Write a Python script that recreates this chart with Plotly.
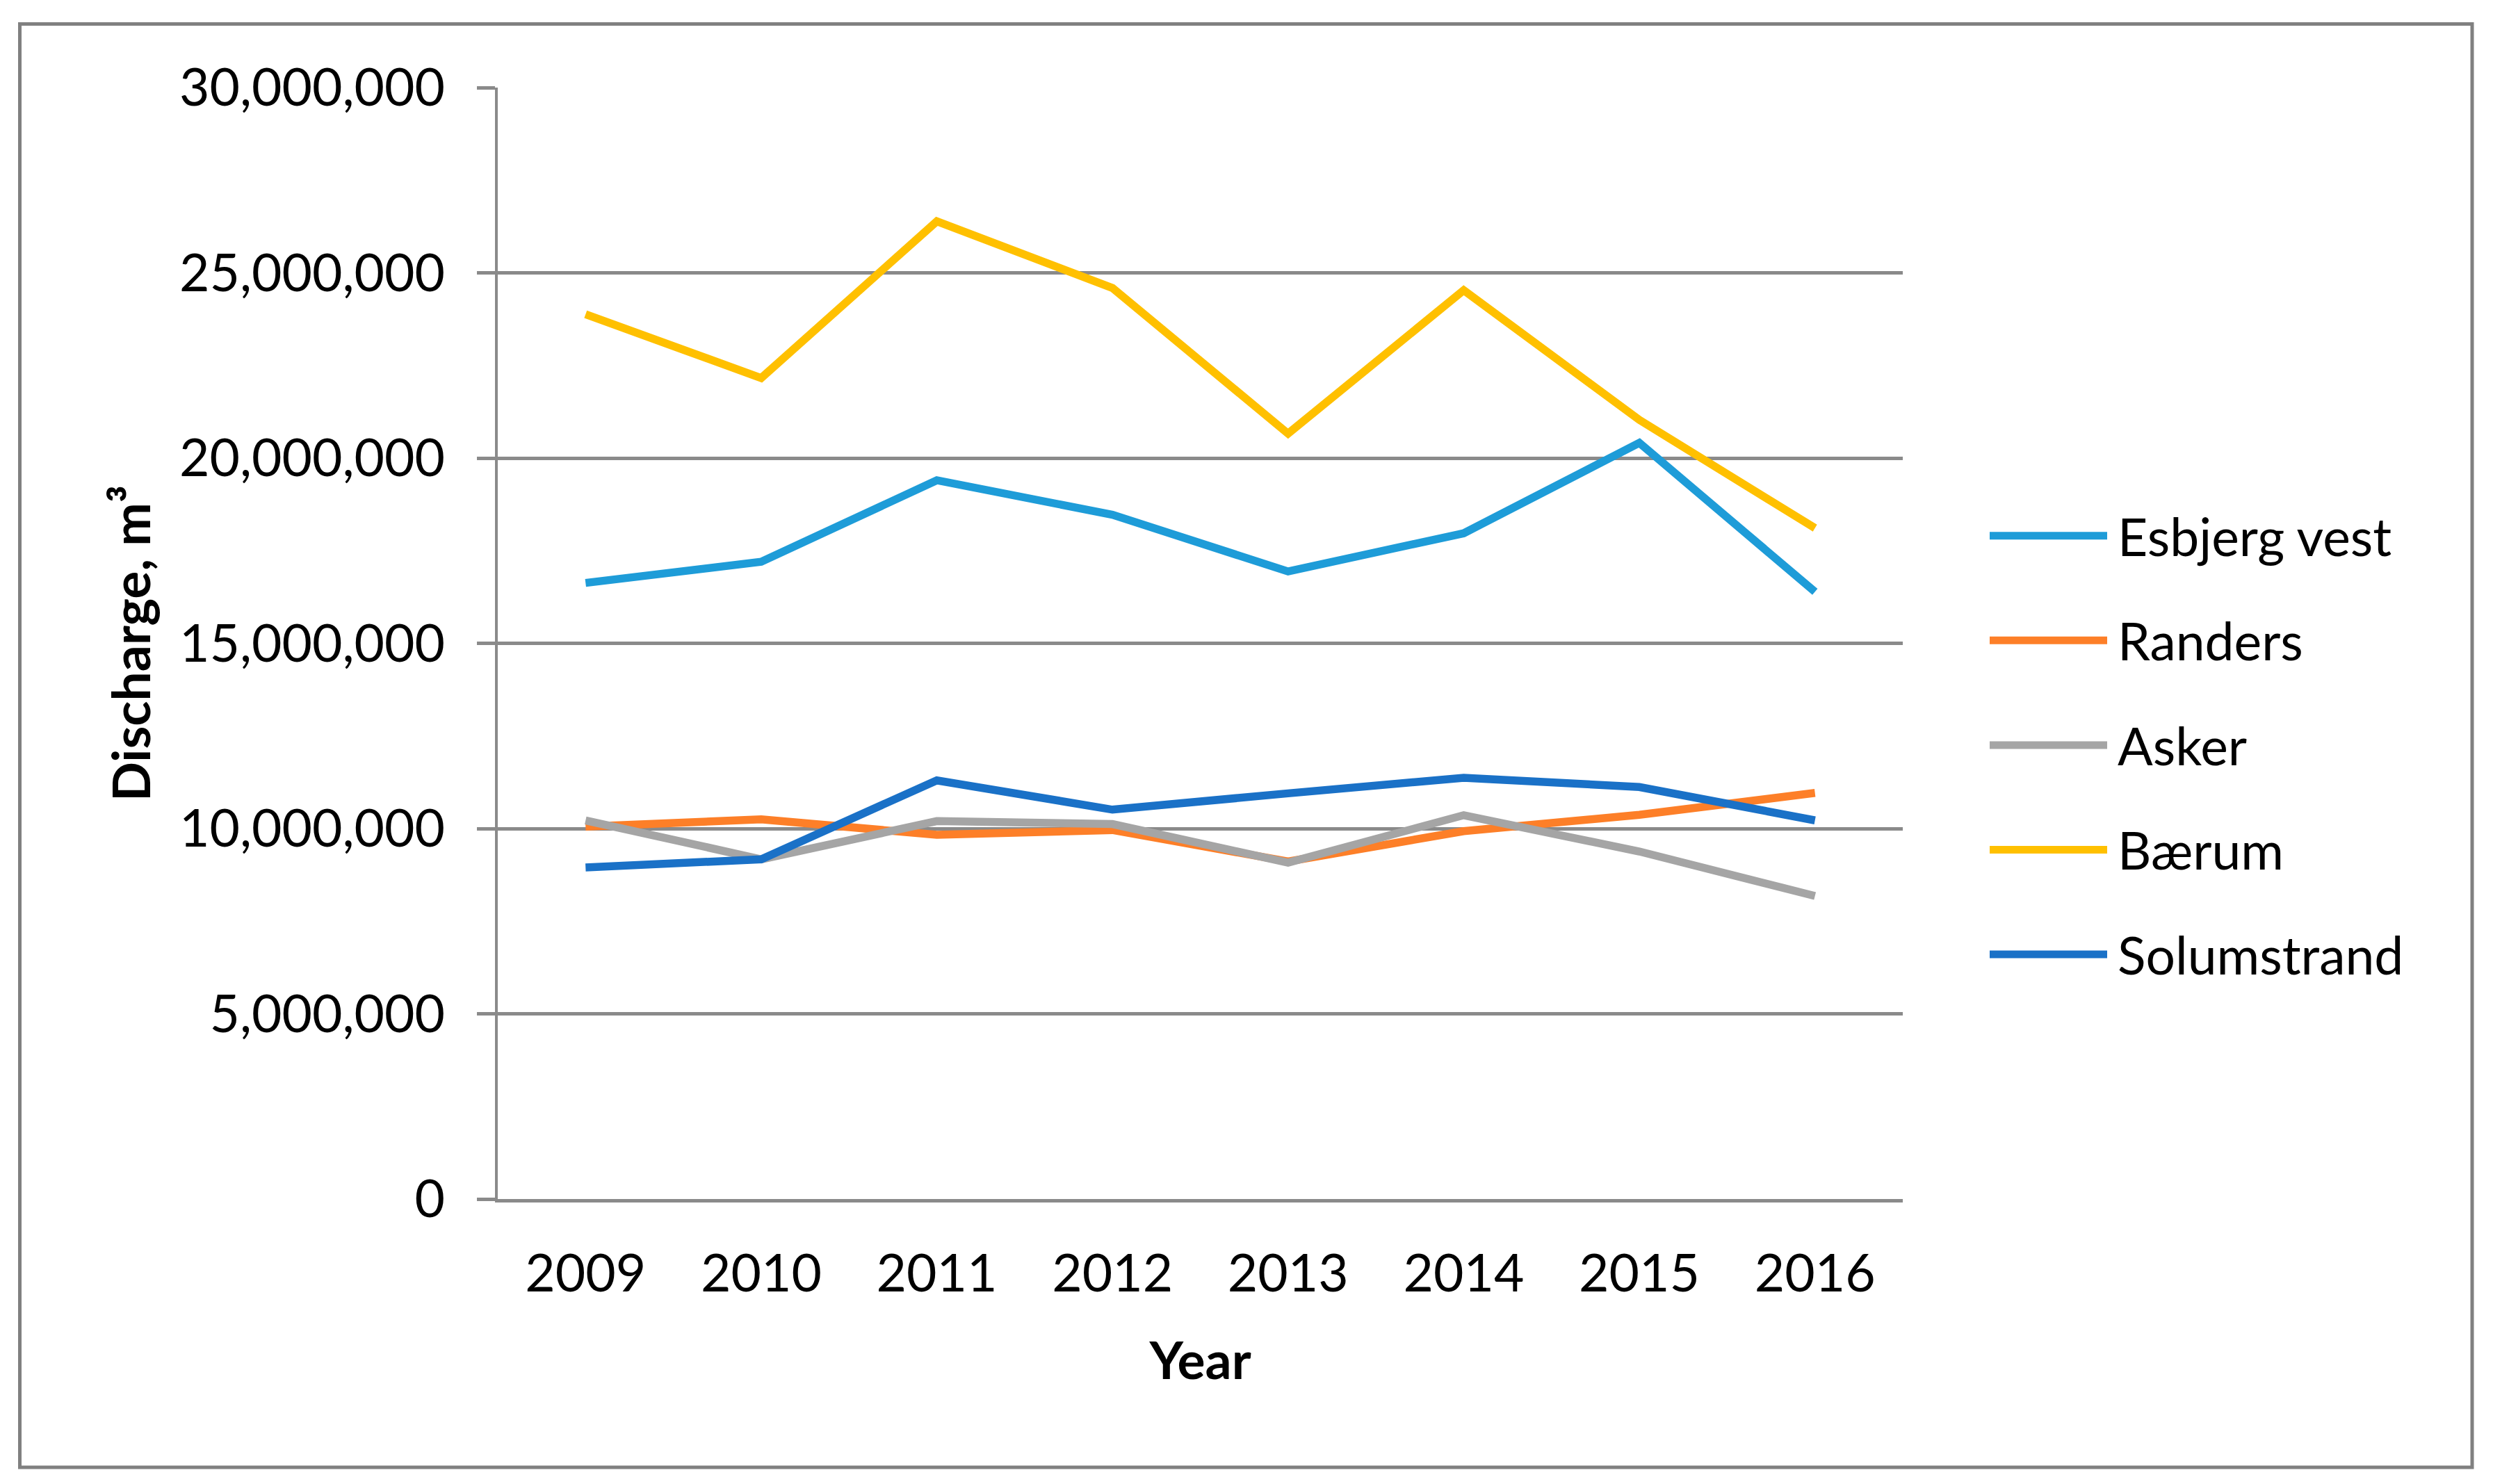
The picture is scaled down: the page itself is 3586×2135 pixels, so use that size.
import plotly.graph_objects as go

years = ["2009", "2010", "2011", "2012", "2013", "2014", "2015", "2016"]
esbjerg_vest = [16630000, 17200000, 19400000, 18470000, 16940000, 17970000, 20410000, 16390000]
randers = [10050000, 10250000, 9830000, 9960000, 9110000, 9930000, 10370000, 10960000]
asker = [10220000, 9170000, 10200000, 10120000, 9080000, 10360000, 9380000, 8180000]
baerum = [23880000, 22160000, 26390000, 24590000, 20660000, 24530000, 21030000, 18110000]
solumstrand = [8950000, 9170000, 11300000, 10510000, 10950000, 11370000, 11120000, 10220000]

series_names = ["Esbjerg vest", "Randers", "Asker", "Bærum", "Solumstrand"]
series_values = [esbjerg_vest, randers, asker, baerum, solumstrand]
series_colors = ["#1E9CD8", "#FD7F28", "#A5A5A5", "#FFC000", "#1A71C7"]

W, H = 3586, 2135
OFF = 8  # page body margin offset
# target positions in screenshot pixels
PL, PR, PT, PB = 716, 2737, 126, 1725.5
L = PL - OFF
T = PT - OFF
R = W - (PR - OFF)
B = H - (PB - OFF)
FONT = "Lato"
GRID = "#8A8A8A"

fig = go.Figure()
for name, vals, col in zip(series_names, series_values, series_colors):
    fig.add_trace(go.Scatter(
        x=years, y=vals, name=name, mode="lines",
        line=dict(color=col, width=11.5),
        showlegend=False,
    ))

pw = PR - PL
ph = PB - PT

def px_to_paper_x(px):
    return (px - PL) / pw

def px_to_paper_y(py):
    return (PB - py) / ph

shapes = []
annotations = []
# outer border
shapes.append(dict(type="rect", xref="paper", yref="paper",
                   x0=px_to_paper_x(28.5), x1=px_to_paper_x(3556),
                   y0=px_to_paper_y(2111.5), y1=px_to_paper_y(34.5),
                   line=dict(color="#808080", width=5), fillcolor="rgba(0,0,0,0)", layer="below"))

# manual legend
leg_y0 = 771
leg_step = 150.6
for i, (name, col) in enumerate(zip(series_names, series_colors)):
    yy = px_to_paper_y(leg_y0 + i * leg_step)
    shapes.append(dict(type="line", xref="paper", yref="paper",
                       x0=px_to_paper_x(2862), x1=px_to_paper_x(3031), y0=yy, y1=yy,
                       line=dict(color=col, width=11)))
    annotations.append(dict(xref="paper", yref="paper", x=px_to_paper_x(3044), y=yy,
                            text=name, showarrow=False, xanchor="left", yanchor="middle",
                            font=dict(family=FONT, size=75, color="black")))

fig.update_layout(
    width=W, height=H,
    margin=dict(l=L, r=R, t=T, b=B, autoexpand=False),
    paper_bgcolor="white", plot_bgcolor="white",
    font=dict(family=FONT, size=75, color="black"),
    shapes=shapes, annotations=annotations,
    showlegend=False,
)
fig.update_xaxes(
    type="category", range=[-0.5, 7.5],
    showgrid=False, zeroline=False,
    showline=True, linecolor=GRID, linewidth=4.5,
    ticks="", ticklabelstandoff=38,
    tickfont=dict(family=FONT, size=75, color="black"),
    title=dict(text="<b>Year</b>", font=dict(family=FONT, size=75, color="black"), standoff=60),
)
fig.update_yaxes(
    range=[0, 30000000], dtick=5000000, tick0=0, tickformat=",",
    showgrid=True, gridcolor=GRID, gridwidth=4.5,
    zeroline=False,
    showline=True, linecolor=GRID, linewidth=4,
    ticks="outside", ticklen=26, tickcolor=GRID, tickwidth=4.5,
    ticklabelstandoff=31,
    tickfont=dict(family=FONT, size=75, color="black"),
    title=dict(text="<b>Discharge, m³</b>", font=dict(family=FONT, size=75, color="black"), standoff=18),
)

fig.write_html("out.html")
